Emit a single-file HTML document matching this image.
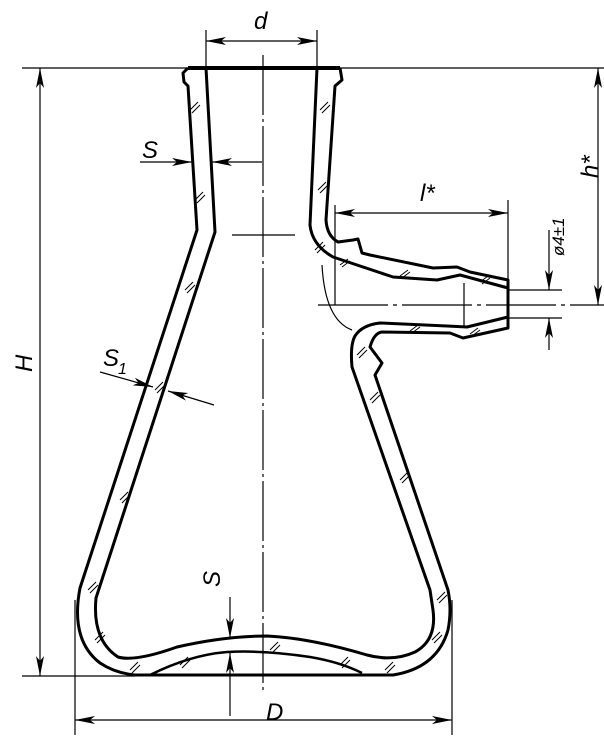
<!DOCTYPE html>
<html><head><meta charset="utf-8"><style>
html,body{margin:0;padding:0;background:#fff;}
svg{display:block;}
text{font-family:"Liberation Sans",sans-serif;font-style:italic;fill:#000;}
</style></head><body>
<svg width="604" height="739" viewBox="0 0 604 739" xmlns="http://www.w3.org/2000/svg">
<defs>
<marker id="a" viewBox="0 0 20 8" refX="20" refY="4" markerWidth="20" markerHeight="8" markerUnits="userSpaceOnUse" orient="auto-start-reverse">
<path d="M0,0 L20,4 L0,8 L5,4 Z" fill="#000"/></marker>
</defs>
<g fill="none" stroke="#000" stroke-width="1.2">
<line x1="22" y1="68" x2="604" y2="68"/>
<line x1="206" y1="30" x2="206" y2="68"/><line x1="317" y1="30" x2="317" y2="68"/>
<line x1="206" y1="41" x2="317" y2="41" marker-start="url(#a)" marker-end="url(#a)"/>
<line x1="263" y1="55" x2="263" y2="692" stroke-dasharray="60,4,3,4"/>
<line x1="232" y1="235" x2="295" y2="235"/>
<line x1="40" y1="68" x2="40" y2="676" marker-start="url(#a)" marker-end="url(#a)"/>
<line x1="22" y1="676" x2="135" y2="676"/>
<line x1="75" y1="600" x2="75" y2="735"/><line x1="452" y1="600" x2="452" y2="735"/>
<line x1="75" y1="720" x2="452" y2="720" marker-start="url(#a)" marker-end="url(#a)"/>
<line x1="598" y1="68" x2="598" y2="305" marker-start="url(#a)" marker-end="url(#a)"/>
<line x1="318" y1="305" x2="604" y2="305" stroke-dasharray="70,5,4,5"/>
<path d="M322,265 Q325,320 352,330"/>
<line x1="335" y1="205" x2="335" y2="305"/>
<line x1="508" y1="200" x2="508" y2="280"/>
<line x1="335" y1="213" x2="508" y2="213" marker-start="url(#a)" marker-end="url(#a)"/>
<line x1="508" y1="290" x2="562" y2="290"/><line x1="508" y1="318" x2="562" y2="318"/>
<line x1="549" y1="230" x2="549" y2="290" marker-end="url(#a)"/>
<line x1="549" y1="350" x2="549" y2="318" marker-end="url(#a)"/>
<line x1="464" y1="283" x2="464" y2="328"/>
<line x1="140" y1="162" x2="192" y2="162" marker-end="url(#a)"/>
<line x1="262" y1="162" x2="212" y2="162" marker-end="url(#a)"/>
<line x1="100" y1="372" x2="153" y2="387" marker-end="url(#a)"/>
<line x1="214" y1="405" x2="168" y2="391" marker-end="url(#a)"/>
<line x1="230" y1="597" x2="230" y2="638" marker-end="url(#a)"/>
<line x1="230" y1="716" x2="230" y2="653" marker-end="url(#a)"/>
</g>
<g fill="none" stroke="#000" stroke-width="3" stroke-linejoin="round">
<line x1="188" y1="68" x2="340" y2="68" stroke-width="4"/>
<!-- exterior -->
<path d="M188,68 L183,73 L184,82 L188,86 L197,230 L80,588 Q70,640 100,663 Q115,673 135,675 L393,675 Q437,668 448,630 Q452,610 448,590 L375,375 L382,363 L370,347 Q374,333 382,332 L450,333 L463,338 L508,328 L508,280 L470,272 L457,267 L433,268 L370,255 L362,253 L358,239 L353,240 L338,242 Q327,236 326,220 L335,86 L342,80 L340,68"/>
<!-- interior -->
<path d="M206,68 L215,232 L96,598 Q92,640 118,657 Q135,662 177,647 Q225,636 267,636 Q310,638 367,655 Q393,662 415,652 Q437,640 433,610 L430,590 L352,367 Q350,345 355,336 Q362,325 380,323 L447,326 L467,327 L508,317"/>
<path d="M317,68 L310,225 Q312,245 333,257 L393,277 L437,280 L460,275 L508,288"/>
<path d="M150,675 Q190,655 227,652 Q265,650 310,657 Q340,662 362,673" stroke-width="2.5"/>
</g>
<g stroke="#000" stroke-width="1">
<path d="M190,110 l8,-8 M192,113 l8,-8 M195,200 l8,-8 M197,203 l8,-8 M320,110 l8,-8 M322,113 l8,-8 M318,190 l8,-8 M320,193 l8,-8 M185,290 l8,-8 M187,293 l8,-8 M155,390 l8,-8 M157,393 l8,-8 M120,500 l8,-8 M122,503 l8,-8 M88,590 l8,-8 M90,593 l8,-8 M95,640 l8,-8 M97,643 l8,-8 M130,670 l8,-8 M132,673 l8,-8 M180,665 l8,-8 M182,668 l8,-8 M270,650 l8,-8 M272,653 l8,-8 M340,665 l8,-8 M342,668 l8,-8 M385,670 l8,-8 M387,673 l8,-8 M432,640 l8,-8 M434,643 l8,-8 M437,600 l8,-8 M439,603 l8,-8 M400,480 l8,-8 M402,483 l8,-8 M370,400 l8,-8 M372,403 l8,-8 M357,355 l8,-8 M359,358 l8,-8 M410,331 l8,-6 M412,333 l8,-6 M470,334 l8,-6 M472,336 l8,-6 M400,276 l8,-6 M402,278 l8,-6 M340,265 l8,-6 M342,267 l8,-6 M480,282 l8,-6 M482,284 l8,-6 M315,250 l8,-8 M317,253 l8,-8"/>
</g>
<g font-size="24">
<text x="254" y="29">d</text>
<text x="14" y="370" transform="rotate(-90 24 362)">H</text>
<text x="266" y="720">D</text>
<text x="142" y="158">S</text>
<text x="103" y="366">S</text><text x="118" y="374" font-size="16">1</text>
<text x="420" y="201">l*</text>
<text x="586" y="190" transform="rotate(-90 586 178)">h*</text>
<text x="222" y="605" transform="rotate(-90 212 597)">S</text>
<text x="540" y="280" font-size="17" transform="rotate(-90 540 256)">ø4±1</text>
</g>
</svg>
</body></html>
